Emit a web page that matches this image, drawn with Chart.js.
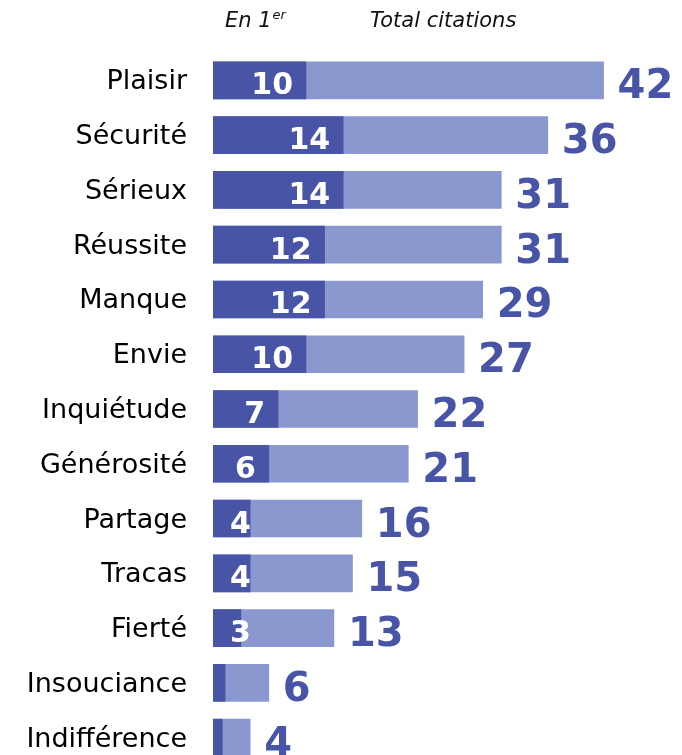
<!DOCTYPE html>
<html>
<head>
<meta charset="utf-8">
<script src="https://cdn.jsdelivr.net/npm/chart.js@4.4.1/dist/chart.umd.min.js"></script>
<style>
	body	{ margin: 0; overflow: hidden; background: #ffffff; }
	canvas	{ display: block; }
</style>
</head>
<body>
<canvas id="chart" width="682" height="766"></canvas>
<script>
const categories	= [ 'Plaisir', 'Sécurité', 'Sérieux', 'Réussite', 'Manque', 'Envie', 'Inquiétude',
						'Générosité', 'Partage', 'Tracas', 'Fierté', 'Insouciance', 'Indifférence' ];
const firstValues	= [ 10, 14, 14, 12, 12, 10, 7, 6, 4, 4, 3, 1.3, 1 ];
const firstLabels	= [ '10', '14', '14', '12', '12', '10', '7', '6', '4', '4', '3', '', '' ];
const totalValues	= [ 42, 36, 31, 31, 29, 27, 22, 21, 16, 15, 13, 6, 4 ];
const seriesNames	= [ 'En 1er', 'Total citations' ];

const DARK	= '#4854a6';
const LIGHT	= '#8b97cf';
const FONT	= '"DejaVu Sans", Verdana, sans-serif';

const valueLabels = {
	id: 'valueLabels',
	afterDatasetsDraw( chart ) {
		const ctx	= chart.ctx;
		const left	= chart.scales.x.left;

		ctx.save();
		ctx.textBaseline	= 'alphabetic';

		// totals, right of the light bars
		ctx.font		= 'bold 40px ' + FONT;
		ctx.fillStyle	= DARK;
		ctx.textAlign	= 'left';
		chart.getDatasetMeta( 1 ).data.forEach( ( bar, i ) => {
			ctx.fillText( String( totalValues[ i ] ), bar.x + 14, bar.y + 18 );
		} );

		// first choice, inside the dark bars
		ctx.font		= 'bold 30px ' + FONT;
		ctx.fillStyle	= '#ffffff';
		ctx.textAlign	= 'right';
		chart.getDatasetMeta( 0 ).data.forEach( ( bar, i ) => {
			const t = firstLabels[ i ];
			if ( !t ) return;
			const w = ctx.measureText( t ).width;
			ctx.fillText( t, Math.max( bar.x - 13, left + 17 + w ), bar.y + 14 );
		} );

		// column headers
		ctx.fillStyle	= '#111111';
		ctx.textAlign	= 'left';
		ctx.font		= 'italic 21px ' + FONT;
		ctx.fillText( 'En 1', left + 12, 27 );
		const w1 = ctx.measureText( 'En 1' ).width;
		ctx.font		= 'italic 13px ' + FONT;
		ctx.fillText( 'er', left + 12 + w1 + 1, 19 );
		ctx.font		= 'italic 21px ' + FONT;
		ctx.fillText( seriesNames[ 1 ], left + 157, 27 );

		ctx.restore();
	}
};

new Chart( document.getElementById( 'chart' ), {
	type: 'bar',
	data: {
		labels: categories,
		datasets: [
			{ label: seriesNames[ 0 ], data: firstValues, backgroundColor: DARK, order: 0 },
			{ label: seriesNames[ 1 ], data: totalValues, backgroundColor: LIGHT, order: 1 }
		]
	},
	options: {
		indexAxis: 'y',
		responsive: false,
		animation: false,
		grouped: false,
		barThickness: 37,
		layout: { padding: { top: 53, bottom: 1, left: 0, right: 4 } },
		plugins: {
			legend: { display: false },
			tooltip: { enabled: false }
		},
		scales: {
			x: {
				display: false,
				min: 0,
				max: 50
			},
			y: {
				afterFit: scale => {
					scale.width			= 213;
					scale.paddingTop	= 0;
					scale.paddingBottom	= 0;
				},
				grid: { display: false, drawTicks: false },
				border: { display: false },
				ticks: {
					color: '#000000',
					font: { family: FONT, size: 27 },
					padding: 26,
					labelOffset: 2
				}
			}
		}
	},
	plugins: [ valueLabels ]
} );
</script>
</body>
</html>
